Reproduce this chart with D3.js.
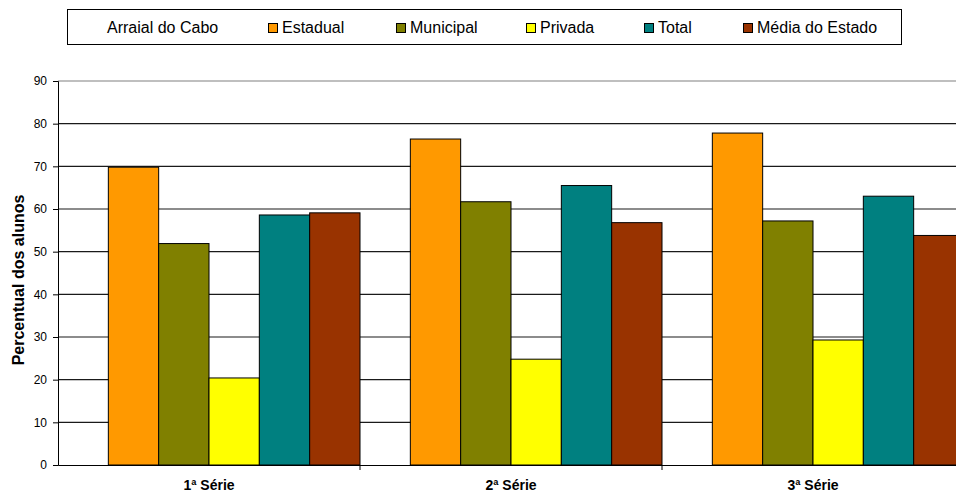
<!DOCTYPE html>
<html><head><meta charset="utf-8">
<script src="https://cdn.jsdelivr.net/npm/d3@7"></script>
<style>body{margin:0;background:#fff}svg{display:block}</style>
</head><body>
<svg id="c" width="956" height="495"></svg>
<script>
const categories = ["1ª Série", "2ª Série", "3ª Série"];
const seriesNames = ["Arraial do Cabo", "Estadual", "Municipal", "Privada", "Total", "Média do Estado"];
const arraial = [null, null, null];
const estadual = [69.8, 76.4, 77.8];
const municipal = [51.9, 61.7, 57.2];
const privada = [20.4, 24.8, 29.3];
const total = [58.6, 65.5, 63.0];
const mediaEstado = [59.1, 56.8, 53.8];
const yTicks = [0, 10, 20, 30, 40, 50, 60, 70, 80, 90];
const colors = ["none", "#FF9900", "#808000", "#FFFF00", "#008080", "#993300"];

const seriesValues = [arraial, estadual, municipal, privada, total, mediaEstado];
const svg = d3.select("#c");
const font = "'Liberation Sans', Arial, sans-serif";

const x0 = 58, catW = 302;
const x = d3.scaleBand().domain(categories).range([x0, x0 + catW * categories.length]).padding(0);
const xs = d3.scaleBand().domain(seriesNames).range([0, x.bandwidth()]).padding(0);
const y = d3.scaleLinear().domain([0, 90]).range([465, 81]);

// gridlines
svg.append("g").selectAll("line").data(yTicks.filter(d => d > 0)).join("line")
  .attr("x1", x0).attr("x2", 956)
  .attr("y1", d => y(d)).attr("y2", d => y(d))
  .attr("stroke", d => d === 90 ? "#808080" : "#1a1a1a").attr("stroke-width", 1.2);

// bars
const data = [];
categories.forEach((c, i) => seriesNames.forEach((s, j) => {
  const v = seriesValues[j][i];
  if (v != null) data.push({c, s, v, j});
}));
svg.append("g").selectAll("rect").data(data).join("rect")
  .attr("x", d => x(d.c) + xs(d.s))
  .attr("width", xs.bandwidth())
  .attr("y", d => y(d.v))
  .attr("height", d => y(0) - y(d.v))
  .attr("fill", d => colors[d.j])
  .attr("stroke", "#000").attr("stroke-width", 1);

// y axis
const ya = svg.append("g").attr("transform", `translate(${x0},0)`)
  .call(d3.axisLeft(y).tickValues(yTicks).tickSize(5).tickPadding(6));
ya.select(".domain").attr("stroke", "#000");
ya.selectAll("line").attr("stroke", "#000");
ya.selectAll("text").attr("font-family", font).attr("font-size", 12).attr("fill", "#000");

// x axis
const xa = svg.append("g").attr("transform", `translate(0,${y(0)})`)
  .call(d3.axisBottom(x).tickSize(0).tickPadding(15));
xa.select(".domain").attr("stroke", "#000");
xa.selectAll("text").attr("font-family", font).attr("font-size", 14).attr("font-weight", "bold").attr("fill", "#000");
svg.append("g").selectAll("line").data(categories.slice(1)).join("line")
  .attr("x1", d => x(d)).attr("x2", d => x(d))
  .attr("y1", y(0)).attr("y2", y(0) + 5).attr("stroke", "#000");

// y title
svg.append("text").attr("transform", "translate(24,280) rotate(-90)")
  .attr("text-anchor", "middle").attr("font-family", font).attr("font-size", 16)
  .attr("font-weight", "bold").text("Percentual dos alunos");

// legend
const legendTextX = [107, 282, 410, 540, 658, 757];
const lg = svg.append("g");
lg.append("rect").attr("x", 67.5).attr("y", 9.5).attr("width", 834).attr("height", 35)
  .attr("fill", "#fff").attr("stroke", "#000");
seriesNames.forEach((s, j) => {
  const tx = legendTextX[j];
  if (colors[j] !== "none") {
    lg.append("rect").attr("x", tx - 13.5).attr("y", 23.5).attr("width", 9).attr("height", 9)
      .attr("fill", colors[j]).attr("stroke", "#000");
  }
  lg.append("text").attr("x", tx).attr("y", 32.5).attr("font-family", font)
    .attr("font-size", 16).attr("fill", "#000").text(s);
});
</script>
</body></html>
